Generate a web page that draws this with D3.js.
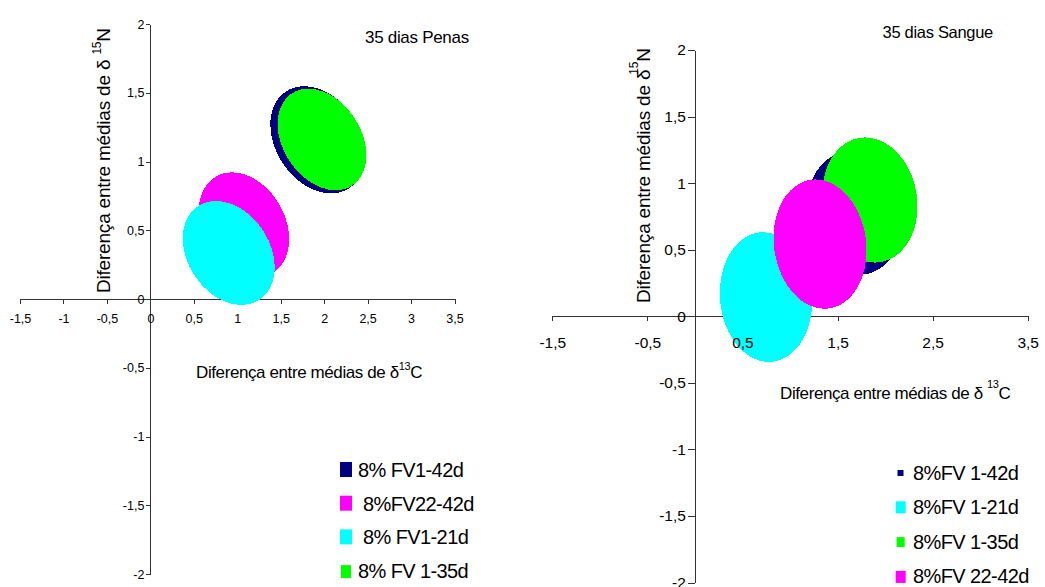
<!DOCTYPE html>
<html>
<head>
<meta charset="utf-8">
<script src="https://cdn.jsdelivr.net/npm/d3@7/dist/d3.min.js"></script>
<style>
  body { margin: 0; background: #fff; }
  svg { display: block; font-family: "Liberation Sans", Arial, sans-serif; }
  .axis path, .axis line { stroke: #333; shape-rendering: crispEdges; }
  .axis text { fill: #000; }
</style>
</head>
<body>
<svg id="chart" width="1045" height="587"></svg>
<script>
// valores (elipses: centro, semi-eixos, inclinação)
const xTicksPenas = [-1.5, -1, -0.5, 0, 0.5, 1, 1.5, 2, 2.5, 3, 3.5];
const xTicksSangue = [-1.5, -0.5, 0.5, 1.5, 2.5, 3.5];
const yTicks = [-2, -1.5, -1, -0.5, 0, 0.5, 1, 1.5, 2];

const seriesPenas = ['8% FV1-42d', ' 8%FV22-42d', ' 8% FV1-21d', '8% FV 1-35d'];
const colorsPenas = ['#000080', '#ff00ff', '#00ffff', '#00ff00'];
const cxPenas = [1.925, 1.077, 0.902, 1.975];
const cyPenas = [1.158, 0.538, 0.335, 1.16];
const rxPenas = [0.485, 0.472, 0.472, 0.449];
const ryPenas = [0.42, 0.407, 0.407, 0.40];
const tiltPenas = [-33, -30, -33, -33];

const seriesSangue = ['8%FV 1-42d', '8%FV 1-21d', '8%FV 1-35d', '8%FV 22-42d'];
const colorsSangue = ['#000080', '#00ffff', '#00ff00', '#ff00ff'];
const cxSangue = [1.684, 0.748, 1.841, 1.316];
const cySangue = [0.775, 0.144, 0.873, 0.542];
const rxSangue = [0.505, 0.484, 0.494, 0.484];
const rySangue = [0.466, 0.488, 0.473, 0.488];
const tiltSangue = [-10, -5, -10, -8];

const svg = d3.select('#chart');
const fmt = d => String(d).replace('.', ',');

function drawPanel(cfg) {
    const x = d3.scaleLinear().domain([-1.5, 3.5]).range(cfg.xRange);
    const y = d3.scaleLinear().domain([-2, 2]).range(cfg.yRange);
    const g = svg.append('g');

    const ells = cfg.series.map((s, i) => ({
        name: s, color: cfg.colors[i],
        cx: cfg.cx[i], cy: cfg.cy[i], rx: cfg.rx[i], ry: cfg.ry[i], tilt: cfg.tilt[i]
    }));

    const xAx = d3.axisBottom(x).tickValues(cfg.xTicks).tickFormat(fmt)
        .tickSize(5).tickSizeOuter(0).tickPadding(cfg.xPad);
    const yAx = d3.axisLeft(y).tickValues(yTicks).tickFormat(fmt)
        .tickSize(cfg.yTick).tickSizeOuter(0).tickPadding(cfg.yPad);

    // linhas dos eixos (ficam por baixo das elipses)
    const addAxes = (labelsOnly) => {
        const ax = g.append('g').attr('class', 'axis')
            .attr('transform', `translate(0,${y(0)})`).call(xAx);
        const ay = g.append('g').attr('class', 'axis')
            .attr('transform', `translate(${x(0)},0)`).call(yAx);
        [ax, ay].forEach(a => {
            a.selectAll('text').style('font-size', cfg.tickFont + 'px');
            if (labelsOnly) {
                a.select('.domain').remove();
                a.selectAll('line').remove();
            } else {
                a.selectAll('text').remove();
            }
        });
    };
    addAxes(false);

    // elipses (na ordem da legenda)
    g.append('g').selectAll('ellipse')
        .data(ells)
        .join('ellipse')
        .attr('cx', d => x(d.cx))
        .attr('cy', d => y(d.cy))
        .attr('rx', d => x(d.rx) - x(0))
        .attr('ry', d => y(0) - y(d.ry))
        .attr('transform', d => `rotate(${d.tilt},${x(d.cx)},${y(d.cy)})`)
        .attr('fill', d => d.color)
        .style('shape-rendering', 'crispEdges');

    // rótulos dos eixos por cima
    addAxes(true);

    // título
    g.append('text')
        .attr('x', cfg.title.x).attr('y', cfg.title.y)
        .style('font-size', cfg.title.size + 'px')
        .style('letter-spacing', '-0.3px')
        .text(cfg.title.text);

    // título do eixo x
    const xt = g.append('text')
        .attr('x', cfg.xTitle.x).attr('y', cfg.xTitle.y)
        .style('font-size', '17px')
        .style('letter-spacing', '-0.4px');
    xt.append('tspan').text(cfg.xTitle.pre);
    xt.append('tspan').attr('dy', -cfg.xTitle.sup).attr('dx', cfg.xTitle.supDx)
        .style('font-size', '11px').text('13');
    xt.append('tspan').attr('dy', cfg.xTitle.sup).text('C');

    // título do eixo y
    const yt = g.append('text')
        .attr('transform', `translate(${cfg.yTitle.x},${cfg.yTitle.y}) rotate(-90)`)
        .style('font-size', '19px')
        .style('letter-spacing', '-0.2px');
    yt.append('tspan').text(cfg.yTitle.pre);
    yt.append('tspan').attr('dy', -cfg.yTitle.sup).attr('dx', cfg.yTitle.supDx)
        .style('font-size', '12px').text('15');
    yt.append('tspan').attr('dy', cfg.yTitle.sup).text('N');

    // legenda
    const leg = g.append('g').selectAll('g')
        .data(ells)
        .join('g');
    leg.append('rect')
        .attr('x', (d, i) => cfg.legend.box[i][0])
        .attr('y', (d, i) => cfg.legend.y0 + i * cfg.legend.step - cfg.legend.box[i][3] - cfg.legend.box[i][1])
        .attr('width', (d, i) => cfg.legend.box[i][2])
        .attr('height', (d, i) => cfg.legend.box[i][3])
        .attr('fill', d => d.color);
    leg.append('text')
        .attr('x', (d, i) => cfg.legend.tx[i])
        .attr('y', (d, i) => cfg.legend.y0 + i * cfg.legend.step)
        .style('font-size', '20px')
        .style('letter-spacing', '-0.6px')
        .text(d => d.name.trim());
}

drawPanel({
    xRange: [20, 454.5], yRange: [574, 24],
    xTicks: xTicksPenas, tickFont: 12.5, xPad: 10, yTick: 4, yPad: 2,
    series: seriesPenas, colors: colorsPenas,
    cx: cxPenas, cy: cyPenas, rx: rxPenas, ry: ryPenas, tilt: tiltPenas,
    title: { text: '35 dias Penas', x: 365, y: 43, size: 17 },
    xTitle: { pre: 'Diferença entre médias de δ', x: 196, y: 377.5, sup: 7.5, supDx: 0 },
    yTitle: { pre: 'Diferença entre médias de δ ', x: 110, y: 293, sup: 9, supDx: 0 },
    legend: {
        y0: 477, step: 33.7,
        box: [[340, 0, 12, 15], [340, 0, 12, 15], [340, 0, 12, 15], [341, 0, 10, 13]],
        tx: [358, 363, 363, 358]
    }
});

drawPanel({
    xRange: [552.3, 1027.7], yRange: [582.5, 50],
    xTicks: xTicksSangue, tickFont: 15.5, xPad: 16, yTick: 7, yPad: 2,
    series: seriesSangue, colors: colorsSangue,
    cx: cxSangue, cy: cySangue, rx: rxSangue, ry: rySangue, tilt: tiltSangue,
    title: { text: '35 dias Sangue', x: 882.5, y: 37.5, size: 16.5 },
    xTitle: { pre: 'Diferença entre médias de δ ', x: 780, y: 399, sup: 11, supDx: 0 },
    yTitle: { pre: 'Diferença entre médias de δ', x: 650, y: 303, sup: 12, supDx: -5 },
    legend: {
        y0: 480, step: 34.3,
        box: [[897.5, 4, 6, 6], [895.7, 1, 10, 12], [896.7, 1.5, 8, 10], [895.7, 0, 10, 12]],
        tx: [913, 913, 913, 913]
    }
});
</script>
</body>
</html>
